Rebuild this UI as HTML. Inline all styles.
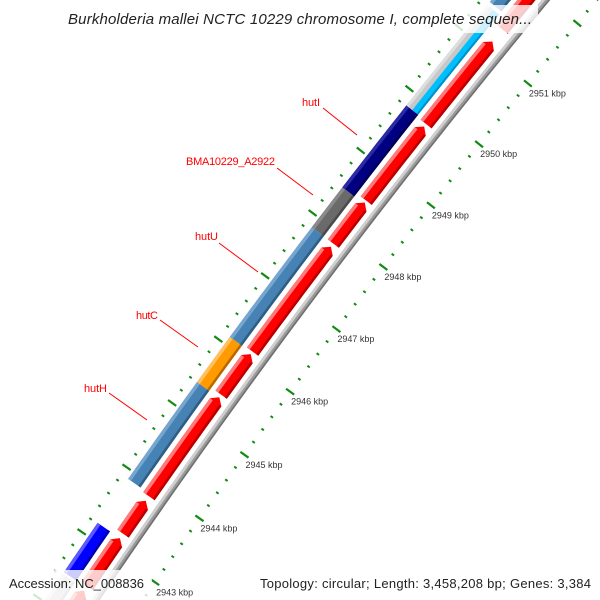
<!DOCTYPE html>
<html><head><meta charset="utf-8"><style>
html,body{margin:0;padding:0;background:#fff;width:600px;height:600px;overflow:hidden;}
svg{display:block;}
text{font-family:"Liberation Sans","DejaVu Sans",sans-serif;}
</style></head><body>
<svg id="chart" width="600" height="600" viewBox="0 0 600 600" xmlns="http://www.w3.org/2000/svg">
<g id="ticks"></g>
<g id="backbone"></g>
<g id="fwd"></g>
<g id="other"></g>
<g id="labels">
  <text x="302" y="106" font-size="11" fill="#ff0000" textLength="18">hutI</text>
  <line x1="323" y1="108" x2="357" y2="135" stroke="#ff0000" stroke-width="1"/>
  <text x="186" y="165" font-size="11" fill="#ff0000" textLength="89">BMA10229_A2922</text>
  <line x1="277" y1="168" x2="313" y2="195" stroke="#ff0000" stroke-width="1"/>
  <text x="195" y="240" font-size="11" fill="#ff0000" textLength="23">hutU</text>
  <line x1="219" y1="243" x2="258" y2="272" stroke="#ff0000" stroke-width="1"/>
  <text x="136" y="319" font-size="11" fill="#ff0000" textLength="22">hutC</text>
  <line x1="160" y1="320" x2="198" y2="347" stroke="#ff0000" stroke-width="1"/>
  <text x="84" y="392" font-size="11" fill="#ff0000" textLength="23">hutH</text>
  <line x1="109" y1="393" x2="147" y2="420" stroke="#ff0000" stroke-width="1"/>
</g>
<rect x="62" y="5" width="476" height="28" fill="#fff" fill-opacity="0.8"/>
<text x="68" y="24" font-size="15" font-style="italic" fill="#222" textLength="464">Burkholderia mallei NCTC 10229 chromosome I, complete sequen...</text>
<rect x="0" y="570" width="152" height="30" fill="#fff" fill-opacity="0.8"/>
<text x="9" y="588" font-size="13" fill="#222" textLength="135">Accession: NC_008836</text>
<rect x="254" y="570" width="346" height="30" fill="#fff" fill-opacity="0.8"/>
<text x="260" y="588" font-size="13" fill="#222" textLength="331">Topology: circular; Length: 3,458,208 bp; Genes: 3,384</text>
</svg>
<script>
// ---- data (kbp) ----
const tickValues = [2943, 2944, 2945, 2946, 2947, 2948, 2949, 2950, 2951];
const tickLabels = ['2943 kbp','2944 kbp','2945 kbp','2946 kbp','2947 kbp','2948 kbp','2949 kbp','2950 kbp','2951 kbp'];
const fwdStarts = [2941.5, 2942.47, 2943.28, 2943.86, 2945.45, 2946.13, 2947.85, 2948.54, 2949.78, 2951.33];
const fwdEnds   = [2942.40, 2943.21, 2943.79, 2945.41, 2946.09, 2947.80, 2948.51, 2949.74, 2951.13, 2952.8];
const featNames  = ['feature-lightgray-low','feature-blue','gene-huth','gene-hutc','gene-hutu','gene-bma10229-a2922','gene-huti','feature-cyan','feature-steelblue-top'];
const featStarts = [2941.5, 2942.45, 2943.89, 2945.40, 2946.11, 2947.85, 2948.49, 2949.81, 2951.5];
const featEnds   = [2942.42, 2943.21, 2945.40, 2946.11, 2947.85, 2948.49, 2949.81, 2951.45, 2952.8];
const featColors = ['lightgray','blue','steelblue','orange','steelblue','gray','navy','cyan','steelblue'];

// ---- geometry / axis ----
const CX = 6508, CY = 4942, R0 = 7705, A0 = 214.46, DA = 0.579;
function pt(k, dr){
  const a = (A0 + (k - 2943) * DA) * Math.PI / 180;
  const r = R0 + dr;
  return [CX + r * Math.cos(a), CY + r * Math.sin(a)];
}
function arcPts(k1, k2, dr){
  const out = []; const n = Math.max(2, Math.ceil(Math.abs(k2 - k1) * 8));
  for (let i = 0; i <= n; i++) out.push(pt(k1 + (k2 - k1) * i / n, dr));
  return out;
}
function bandPath(k1, k2, r1, r2){
  const a = arcPts(k1, k2, r1), b = arcPts(k2, k1, r2);
  return 'M' + a.concat(b).map(p => p[0].toFixed(2) + ',' + p[1].toFixed(2)).join('L') + 'Z';
}
function arrowPath(k1, k2, r1, r2){
  const h = Math.min(0.08, (k2 - k1) * 0.5);
  const a = arcPts(k1, k2 - h, r1), b = arcPts(k2 - h, k1, r2);
  const tip = pt(k2, (r1 + r2) / 2);
  const pts = a.concat([tip]).concat(b);
  return 'M' + pts.map(p => p[0].toFixed(2) + ',' + p[1].toFixed(2)).join('L') + 'Z';
}
const NS = 'http://www.w3.org/2000/svg';
function mk(tag, parent, attrs){
  const e = document.createElementNS(NS, tag);
  for (const k in attrs) e.setAttribute(k, attrs[k]);
  parent.appendChild(e); return e;
}
const palette = {
  red:['#ff0000','#ff7a7a','#b80000'], steelblue:['#4682b4','#76a6d0','#2e5d85'],
  orange:['#ff9a00','#ffc060','#b86a00'], gray:['#6a6a6a','#8a8a8a','#4a4a4a'],
  navy:['#000080','#2a2aa6','#00005a'], blue:['#0000ff','#5a5aff','#0000b0'],
  cyan:['#00bfff','#60d8ff','#0090c8'], lightgray:['#c8c8c8','#dedede','#a8a8a8']
};

// ticks
const gT = document.getElementById('ticks');
for (let i = 0; i <= 60; i++){
  const k = 2941 + i * 0.2;
  const major = Math.abs(k - Math.round(k)) < 1e-6;
  const len = major ? 5 : 1.5;
  [[0, 'outer'], [89, 'inner']].forEach(([dr, nm]) => {
    const p1 = pt(k, dr - len), p2 = pt(k, dr + len);
    const l = mk('line', gT, {x1:p1[0], y1:p1[1], x2:p2[0], y2:p2[1], stroke:'#138a13', 'stroke-width': major ? 2.2 : 2});
    
    
  });
}
tickValues.forEach((v, i) => {
  const p = pt(v, 0);
  const t = mk('text', gT, {x:(p[0] + 1).toFixed(1), y:(p[1] + 13).toFixed(1), 'font-size':'9', fill:'#333'});
  t.textContent = tickLabels[i];
  
  
});

// backbone
const gB = document.getElementById('backbone');
let bb = mk('path', gB, {d: bandPath(2941, 2953, 35.7, 42.3), fill:'#9a9a9a'});


let bl = mk('path', gB, {d: bandPath(2941, 2953, 39.5, 42.3), fill:'#cfcfcf'});


let bd = mk('path', gB, {d: bandPath(2941, 2953, 35.7, 37.3), fill:'#707070'});



// forward genes (red arrows)
const gF = document.getElementById('fwd');
fwdStarts.forEach((s, i) => {
  const e = fwdEnds[i]; const c = palette.red;
  const g = mk('g', gF, {});
  
  
  mk('path', g, {d: arrowPath(s, e, 47, 61), fill: c[0]});
  const hk = Math.min(0.08, (e - s) * 0.5);
  mk('path', g, {d: bandPath(s, e - hk, 57.5, 61), fill: c[1]});
  mk('path', g, {d: bandPath(s, e - hk, 47, 49.5), fill: c[2]});
});

// feature lane
const gO = document.getElementById('other');
featStarts.forEach((s, i) => {
  const e = featEnds[i]; const c = palette[featColors[i]];
  const g = mk('g', gO, {});
  
  
  mk('path', g, {d: bandPath(s, e, 66, 81), fill: c[0]});
  if (featColors[i] === 'cyan'){
    const lg = palette.lightgray;
    mk('path', g, {d: bandPath(s, e, 73.5, 81), fill: lg[0]});
    mk('path', g, {d: bandPath(s, e, 78, 81), fill: lg[1]});
    mk('path', g, {d: bandPath(s, e, 66, 68), fill: c[2]});
  } else {
    mk('path', g, {d: bandPath(s, e, 77.5, 81), fill: c[1]});
    mk('path', g, {d: bandPath(s, e, 66, 68.5), fill: c[2]});
  }
});
</script>
</body></html>
